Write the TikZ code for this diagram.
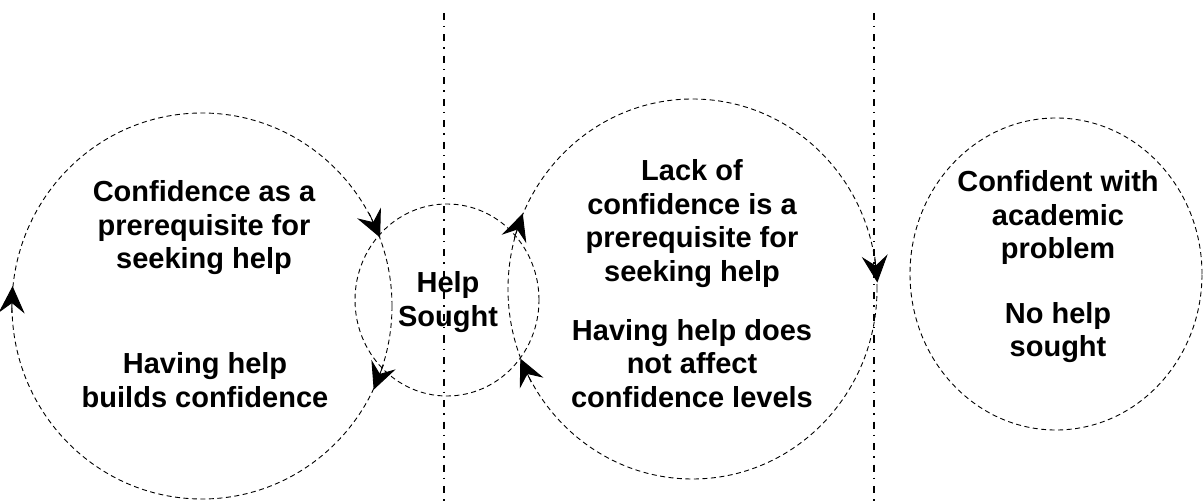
\documentclass[tikz,border=0pt]{standalone}
\usepackage{fontspec}
\setmainfont{Liberation Sans}
\usetikzlibrary{shapes.geometric,arrows.meta}

\begin{document}
\begin{tikzpicture}[x=1pt,y=-1pt,
  ring/.style={ellipse, draw, line width=0.9pt, dash pattern=on 5pt off 3.5pt, inner sep=0pt},
  % multi-line labels: the base anchor sits on the baseline of the last line
  txt/.style={font=\fontsize{29}{33.5}\selectfont\bfseries, align=center, anchor=base, inner sep=0pt},
  flow/.style={line width=0.9pt, -{Stealth[length=27pt,width=26pt,inset=10pt]}},
  divider/.style={line width=1.4pt, dash pattern=on 7pt off 6pt on 1.5pt off 7pt}
]
\useasboundingbox (0,0) rectangle (1204,502);

% the four cycles
\node[ring, minimum width=380pt, minimum height=386pt] (L) at (202,306) {};
\node[ring, minimum width=184pt, minimum height=192pt] (H) at (447,300) {};
\node[ring, minimum width=369pt, minimum height=380pt] (M) at (692.5,289) {};
\node[ring, minimum width=292pt, minimum height=312pt] (R) at (1056,274) {};

% vertical separators
\coordinate (d1t) at (444,13);
\coordinate (d1b) at (444,502);
\coordinate (d2t) at (874,13);
\coordinate (d2b) at (874,502);
\draw[divider] (d1t) -- (d1b);
\draw[divider] (d2t) -- (d2b);

% direction of travel round the cycles
\draw[flow] (L.182) -- (L.174);
\draw[flow] (L.29) -- (L.21);
\draw[flow] (L.-18) -- (L.-26);
\draw[flow] (M.164) -- (M.156);
\draw[flow] (M.10) -- (M.2);
\draw[flow] (M.210) -- (M.202);

% labels
\node[txt] (t1) at (204,269) {Confidence as a\\prerequisite for\\seeking help};
\node[txt] (t2) at (205,407) {Having help\\builds confidence};
\node[txt] (t3) at (448,326.5) {Help\\Sought};
\node[txt] (t4) at (692,281.5) {Lack of\\confidence is a\\prerequisite for\\seeking help};
\node[txt] (t5) at (692,407) {Having help does\\not affect\\confidence levels};
\node[txt] (t6) at (1058,259) {Confident with\\academic\\problem};
\node[txt] (t7) at (1058,356.5) {No help\\sought};
\end{tikzpicture}
\end{document}
